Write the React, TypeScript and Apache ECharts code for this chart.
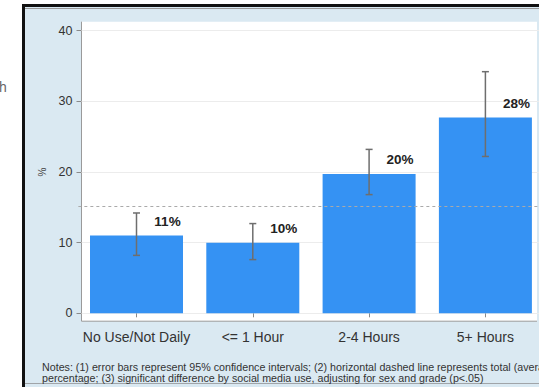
import React, { useEffect, useRef } from "react";
import * as echarts from "echarts";

const categories = ["No Use/Not Daily", "<= 1 Hour", "2-4 Hours", "5+ Hours"];
const values = [11, 10, 19.7, 27.7];
const ciLow = [8.2, 7.6, 16.8, 22.2];
const ciHigh = [14.2, 12.7, 23.2, 34.2];
const barLabels = ["11%", "10%", "20%", "28%"];
const averageValue = 15.1;
const yMin = 0;
const yMax = 40;
const yInterval = 10;
const notesLine1 =
  "Notes: (1) error bars represent 95% confidence intervals; (2) horizontal dashed line represents total (average)";
const notesLine2 =
  "percentage; (3) significant difference by social media use, adjusting for sex and grade (p<.05)";

export default function App() {
  const ref = useRef<HTMLDivElement>(null);
  useEffect(() => {
    if (!ref.current) return;
    const chart = echarts.init(ref.current, null, { renderer: "svg" });
    const font = "Liberation Sans, Arial, sans-serif";
    chart.setOption({
      animation: false,
      backgroundColor: "#ffffff",
      textStyle: { fontFamily: font },
      grid: {
        left: 78.35,
        width: 465.2,
        top: 30.7,
        bottom: 73.7,
        containLabel: false,
        outerBoundsMode: "none",
      },
      xAxis: {
        type: "category",
        data: categories,
        offset: 8,
        axisLine: { show: false },
        axisTick: { show: true, alignWithLabel: true, length: 4, lineStyle: { color: "#8a8a8a" } },
        axisLabel: { color: "#333", fontSize: 14, margin: 9, interval: 0, fontFamily: font },
      },
      yAxis: {
        type: "value",
        min: yMin,
        max: yMax,
        interval: yInterval,
        offset: -3.15,
        name: "%",
        nameLocation: "middle",
        nameGap: 33,
        nameRotate: 90,
        nameTextStyle: { color: "#444", fontSize: 10, fontFamily: font },
        axisLine: { show: false },
        axisTick: { show: true, length: 5, lineStyle: { color: "#8a8a8a" } },
        axisLabel: { color: "#333", fontSize: 12.5, margin: 9, fontFamily: font },
        splitLine: { show: true, lineStyle: { color: "#ececec", width: 1 } },
      },
      graphic: [
        {
          type: "rect",
          z: -20,
          shape: { x: 23.5, y: 5.5, width: 600, height: 500 },
          style: { fill: "#dae9f2", stroke: "#111", lineWidth: 3 },
        },
        {
          type: "rect",
          z: -19,
          shape: { x: 81.5, y: 21.7, width: 455.5, height: 299.5 },
          style: { fill: "#ffffff" },
        },
        {
          type: "line",
          z: -18,
          shape: { x1: 81.5, y1: 21.7, x2: 81.5, y2: 321.2 },
          style: { stroke: "#9a9a9a", lineWidth: 1 },
        },
        {
          type: "line",
          z: -18,
          shape: { x1: 81.5, y1: 321.2, x2: 537, y2: 321.2 },
          style: { stroke: "#9a9a9a", lineWidth: 1 },
        },
        {
          type: "line",
          z: -18,
          shape: { x1: 25, y1: 8.5, x2: 540, y2: 8.5 },
          style: { stroke: "#9a9a9a", lineWidth: 1 },
        },
        {
          type: "line",
          z: -18,
          shape: { x1: 25, y1: 383.5, x2: 540, y2: 383.5 },
          style: { stroke: "#a0a4a8", lineWidth: 1 },
        },
        {
          type: "rect",
          z: -17,
          shape: { x: 25, y: 21.7, width: 56, height: 299.5 },
          style: { fill: "#dae9f2" },
        },
        {
          type: "text",
          z: 10,
          x: 42,
          y: 366.5,
          style: { text: notesLine1, fill: "#333", fontSize: 10.7, fontFamily: font, verticalAlign: "middle" },
        },
        {
          type: "text",
          z: 10,
          x: 42,
          y: 377.8,
          style: { text: notesLine2, fill: "#333", fontSize: 10.7, fontFamily: font, verticalAlign: "middle" },
        },
        {
          type: "text",
          z: 10,
          x: -1,
          y: 87,
          style: { text: "h", fill: "#666", fontSize: 14, fontFamily: font, verticalAlign: "middle" },
        },
      ],
      series: [
        {
          type: "bar",
          z: 3,
          data: values,
          barWidth: 93,
          itemStyle: { color: "#3592f3" },
          label: {
            show: true,
            position: "top",
            offset: [31, -2.5],
            formatter: (p: any) => barLabels[p.dataIndex],
            fontSize: 13.5,
            fontWeight: "bold",
            color: "#222",
            fontFamily: font,
          },
        },
        {
          type: "line",
          z: 1,
          data: [],
          markLine: {
            silent: true,
            symbol: "none",
            label: { show: false },
            lineStyle: { color: "#aaaaaa", type: [3, 3], width: 1 },
            data: [{ yAxis: averageValue }],
          },
        },
        {
          type: "custom",
          z: 5,
          data: categories.map((_, i) => [i, ciLow[i], ciHigh[i]]),
          renderItem: (params: any, api: any) => {
            const lo = api.coord([api.value(0), api.value(1)]);
            const hi = api.coord([api.value(0), api.value(2)]);
            const half = 3.5;
            const style = { stroke: "#6e6e6e", lineWidth: 1.5 };
            return {
              type: "group",
              children: [
                { type: "line", shape: { x1: lo[0], y1: lo[1], x2: hi[0], y2: hi[1] }, style },
                { type: "line", shape: { x1: hi[0] - half, y1: hi[1], x2: hi[0] + half, y2: hi[1] }, style },
                { type: "line", shape: { x1: lo[0] - half, y1: lo[1], x2: lo[0] + half, y2: lo[1] }, style },
              ],
            };
          },
        },
      ],
    });
    return () => chart.dispose();
  }, []);
  return (
    <div
      ref={ref}
      style={{ position: "fixed", left: 0, top: 0, width: 539, height: 387 }}
    />
  );
}
